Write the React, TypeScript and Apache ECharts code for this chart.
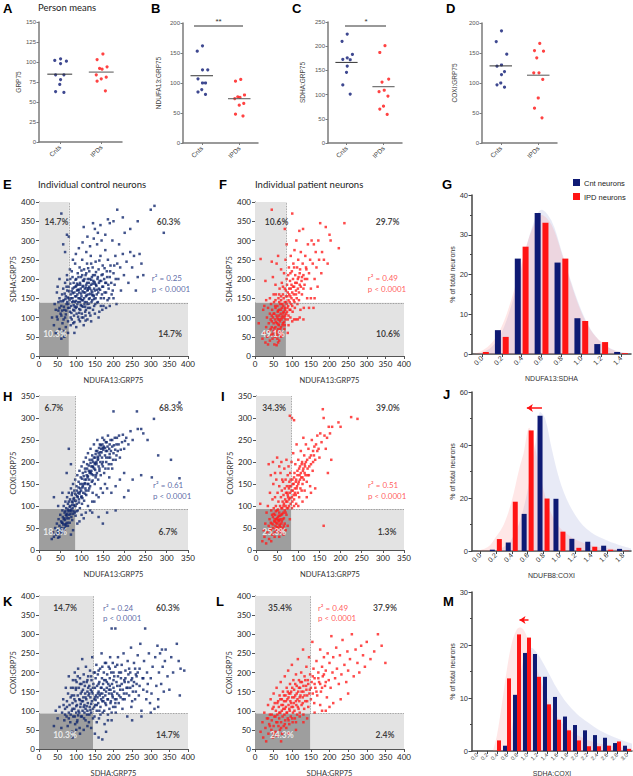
import React, { useEffect, useRef } from 'react';
import * as echarts from 'echarts';

const FC = 'Lato, "Open Sans", sans-serif';
const FA = '"Liberation Sans", Arial, sans-serif';
const NAVY = '#0e1a74';
const RED = '#ff1414';
const SNAVY = '#12286e';
const SRED = '#ff1e1e';

// ---------- Top row: person means ----------
const stripCats = ['Cnts', 'IPDs'];
const aCnt = [104, 102, 101, 98, 84, 84, 78, 72, 63, 62];
const aIpd = [110, 103, 94, 92, 91, 84, 81, 79, 76, 64];
const bCnt = [162, 153, 122, 122, 107, 100, 100, 89, 85, 81];
const bIpd = [106, 103, 80, 77, 76, 74, 66, 63, 48, 45];
const cCnt = [225, 210, 183, 176, 173, 172, 159, 146, 120, 101];
const cIpd = [201, 187, 132, 126, 109, 106, 97, 76, 70, 59];
const dCnt = [187, 169, 148, 130, 128, 119, 114, 100, 97, 93];
const dIpd = [166, 154, 153, 142, 117, 117, 106, 75, 58, 42];
const jitA = [0.02, -0.12, 0.16, 0.02, -0.1, 0.1, 0.02, 0.0, -0.1, 0.1];
const jitB = [0.04, -0.1, 0.14, -0.04, 0.02, -0.12, 0.12, 0.0, -0.1, 0.1];

// ---------- Scatter panels (individual neurons) ----------
const ePts = [[45,120],[50,95],[52,140],[55,150],[58,110],[60,130],[62,160],[63,85],[65,175],[66,145],[68,120],[70,190],[70,100],[72,155],[74,135],[75,210],[76,170],[78,125],[78,90],[80,180],[82,145],[83,115],[84,200],[85,160],[86,130],[88,95],[88,220],[90,175],[90,150],[92,120],[93,190],[94,105],[95,165],[96,140],[97,240],[98,180],[99,125],[100,155],[100,200],[101,110],[102,170],[103,135],[104,215],[105,185],[106,150],[107,95],[108,165],[109,230],[110,140],[110,190],[111,120],[112,175],[113,205],[114,155],[115,130],[116,250],[117,180],[118,145],[119,100],[120,195],[120,165],[121,225],[122,135],[123,175],[124,115],[125,210],[126,155],[127,185],[128,140],[129,240],[130,170],[131,200],[132,125],[133,160],[134,190],[135,220],[136,150],[137,175],[138,105],[139,260],[140,185],[141,140],[142,205],[143,165],[144,230],[145,120],[146,195],[147,155],[148,175],[150,210],[151,135],[152,245],[153,185],[155,160],[156,290],[157,200],[158,140],[160,225],[161,175],[162,115],[163,195],[165,260],[166,150],[168,210],[170,180],[171,235],[173,130],[175,200],[176,165],[178,275],[180,190],[182,220],[184,145],[185,250],[187,175],[190,205],[192,235],[195,160],[197,300],[200,215],[203,185],[205,260],[208,135],[210,240],[213,200],[215,290],[218,230],[220,170],[225,265],[228,210],[230,320],[235,245],[240,190],[245,270],[250,230],[255,260],[260,170],[265,205],[270,265],[275,240],[280,210],[300,380],[310,390],[335,320],[265,350],[210,380],[185,355],[165,340],[150,330],[120,335],[130,310],[145,345],[60,370],[65,290],[70,270],[75,315],[80,310],[55,200],[50,180],[48,165],[40,80],[45,60],[60,45],[55,70],[65,65],[72,75],[78,60],[85,80],[92,85],[100,75],[110,90],[120,80],[130,95],[140,90],[150,110],[160,100],[95,60],[115,100],[125,105],[170,120],[180,125],[190,130],[200,150],[35,100],[42,135],[68,50],[96,128],[104,172],[112,148],[118,196],[126,178],[134,136],[142,158],[150,188],[88,168],[92,142],[100,182],[108,122],[116,210],[124,128],[132,176],[140,198],[148,148],[156,172],[80,150],[76,140]];
const ePtsCore = [[62,118],[64,142],[67,128],[69,162],[71,148],[73,118],[74,180],[77,152],[79,135],[81,168],[82,125],[84,188],[86,150],[87,112],[89,140],[90,205],[91,163],[93,132],[94,178],[95,118],[97,155],[98,198],[99,143],[101,128],[102,188],[103,160],[105,140],[106,205],[107,172],[108,112],[109,150],[111,185],[112,132],[113,162],[114,222],[115,145],[117,168],[118,128],[119,182],[121,150],[122,200],[123,140],[124,165],[126,120],[127,215],[128,158],[129,190],[130,135],[131,172],[132,228],[134,148],[135,180],[136,200],[137,125],[138,162],[140,240],[141,170],[143,145],[144,188],[145,210],[146,158],[148,130],[149,192],[150,170],[152,150],[153,218],[154,182],[156,138],[158,205],[159,165],[161,190],[162,248],[164,172],[166,130],[167,195],[169,160],[171,212],[172,180],[174,150],[176,228],[178,190],[180,165],[183,205],[186,185],[188,150],[191,220],[194,190],[198,170],[202,235],[206,200],[85,100],[95,88],[105,102],[115,110],[125,92],[135,112],[60,105],[66,95],[72,108],[55,125],[58,142],[52,118],[48,102],[76,198],[83,225],[91,250],[99,265],[107,280],[117,295],[127,270],[137,285],[147,305],[158,320],[168,300],[178,315],[190,345],[200,350],[225,360],[245,330]];
const fPts = [[10,85],[15,252],[20,45],[22,120],[25,60],[28,195],[28,35],[30,75],[32,100],[33,50],[35,125],[35,30],[37,85],[38,65],[40,110],[40,40],[42,95],[43,135],[44,55],[45,380],[45,75],[46,120],[47,45],[48,100],[48,205],[50,65],[50,85],[51,140],[52,110],[53,50],[54,95],[55,125],[55,75],[56,160],[57,60],[58,105],[58,240],[59,85],[60,130],[60,45],[61,115],[62,70],[62,95],[63,150],[64,80],[65,120],[65,105],[66,175],[67,60],[67,90],[68,135],[69,110],[70,75],[70,145],[71,95],[72,125],[72,190],[73,55],[74,105],[75,160],[75,85],[76,130],[77,115],[78,100],[78,215],[79,70],[80,140],[80,175],[81,120],[82,95],[82,250],[83,155],[84,110],[85,135],[85,290],[86,185],[87,125],[88,165],[88,95],[89,210],[90,145],[91,230],[92,175],[93,120],[94,195],[95,155],[96,260],[97,135],[98,185],[99,220],[100,370],[100,165],[101,115],[102,200],[103,240],[104,145],[105,180],[106,275],[107,125],[108,210],[110,160],[111,300],[112,190],[113,230],[114,135],[115,175],[116,250],[117,205],[118,145],[119,325],[120,185],[121,225],[122,120],[123,270],[125,195],[126,160],[128,240],[129,330],[130,210],[131,125],[133,185],[135,260],[137,230],[140,200],[142,290],[145,215],[148,250],[150,175],[152,300],[155,240],[157,125],[158,290],[160,200],[163,270],[165,230],[168,180],[170,300],[172,250],[175,345],[178,215],[180,270],[185,250],[190,335],[195,240],[200,315],[203,300],[225,280],[240,345],[130,95],[120,100],[110,95],[100,90],[95,100],[140,150],[150,150],[145,125],[160,150],[62,35],[58,28],[52,30],[70,50],[65,40],[88,60],[90,80],[105,95],[115,95],[55,185],[50,160],[40,150],[30,145],[25,130],[45,245],[62,260],[70,225],[80,330]];
const fPtsCore = [[42,70],[45,90],[48,58],[50,110],[52,72],[54,130],[56,88],[58,65],[60,100],[62,118],[63,82],[65,140],[66,95],[68,70],[69,120],[70,155],[72,100],[73,135],[74,80],[76,112],[77,150],[78,88],[80,125],[81,105],[83,170],[84,140],[86,115],[87,155],[89,130],[90,105],[92,160],[93,140],[95,120],[96,175],[98,150],[100,130],[102,180],[104,160],[106,140],[108,190],[110,170],[112,150],[115,200],[118,165],[120,215],[123,180],[126,205],[130,175],[134,200],[138,225],[45,105],[55,145],[65,160],[75,180],[85,200],[95,215],[105,230],[60,55],[70,60],[80,80]];
const hPts = [[30,25],[33,40],[35,30],[38,50],[40,35],[42,60],[44,45],[45,28],[46,70],[48,55],[50,40],[50,80],[52,65],[53,50],[55,90],[56,75],[57,58],[58,100],[59,45],[60,85],[61,68],[62,110],[63,55],[64,95],[65,78],[66,120],[67,62],[68,105],[69,88],[70,130],[70,72],[72,98],[73,115],[74,82],[75,140],[76,92],[77,125],[78,68],[79,108],[80,150],[81,88],[82,118],[83,135],[84,100],[85,160],[86,78],[87,125],[88,145],[89,105],[90,170],[91,90],[92,130],[93,155],[94,115],[95,180],[96,95],[97,140],[98,165],[99,120],[100,190],[101,105],[102,150],[103,175],[104,130],[105,200],[106,112],[107,160],[108,185],[109,140],[110,210],[111,125],[112,170],[113,195],[114,150],[115,220],[116,135],[117,180],[118,160],[119,205],[120,145],[121,230],[122,175],[123,190],[124,155],[125,215],[126,130],[127,200],[128,170],[129,240],[130,185],[131,150],[132,210],[133,165],[134,225],[135,195],[136,175],[137,250],[138,205],[139,160],[140,220],[142,185],[143,240],[144,200],[145,170],[146,230],[148,210],[149,255],[150,190],[152,235],[153,175],[155,215],[157,245],[158,200],[160,225],[162,260],[163,185],[165,230],[167,210],[168,250],[170,195],[172,235],[175,220],[175,315],[178,255],[180,205],[182,240],[185,225],[188,260],[190,210],[195,245],[200,230],[205,255],[210,240],[215,270],[220,250],[230,315],[232,275],[240,275],[245,265],[255,250],[265,165],[270,298],[280,215],[310,205],[330,163],[330,335],[150,60],[65,175],[70,230],[75,195],[35,120],[55,130],[100,80],[110,85],[120,90],[130,110],[140,120],[150,130],[160,140],[170,130],[180,145],[190,160],[200,175],[210,135],[220,160],[240,170],[95,65],[105,72],[125,85],[140,75],[160,85],[180,90],[115,100],[125,110],[135,125],[145,140],[155,150],[165,165],[200,120],[45,100],[90,60],[80,45],[75,35],[54,62],[60,72],[66,82],[72,90],[78,102],[84,112],[90,122],[96,132],[102,142],[108,152],[114,165],[120,178],[126,190],[132,198],[138,212],[144,222],[150,232]];
const hPtsCore = [[52,48],[55,62],[58,70],[61,58],[63,80],[66,72],[68,92],[71,80],[73,100],[75,88],[77,110],[79,95],[81,115],[83,102],[85,128],[87,112],[89,135],[91,120],[93,142],[95,128],[97,150],[99,135],[101,162],[103,145],[105,168],[107,150],[109,178],[111,160],[113,185],[115,168],[117,192],[119,175],[121,198],[123,180],[125,205],[127,188],[129,210],[131,195],[133,218],[135,200],[137,225],[139,208],[141,232],[143,215],[145,238],[147,222],[149,240],[151,228],[153,250],[155,232],[157,225],[159,245],[161,235],[163,210],[166,240],[169,225],[172,250],[176,238],[179,228],[183,255],[187,240],[192,228],[197,262],[202,248],[45,38],[48,30],[56,40],[60,50],[64,60],[68,55],[72,62],[76,75],[80,82],[84,85],[88,88],[62,88],[70,110],[78,130],[86,100],[94,108],[102,118],[110,135],[118,140],[126,158],[134,170],[142,180],[150,200],[158,210],[166,218],[174,205],[182,215],[100,122],[108,128],[116,150],[124,172],[132,182],[140,190],[148,195],[156,185],[164,195],[172,185]];
const iPts = [[10,105],[15,20],[18,45],[20,30],[22,60],[24,15],[25,85],[27,40],[28,100],[30,55],[31,25],[32,70],[33,130],[35,45],[36,90],[37,60],[38,35],[39,115],[40,75],[40,50],[41,150],[42,95],[43,65],[44,40],[45,120],[45,80],[46,55],[47,100],[48,70],[48,160],[49,45],[50,90],[50,60],[51,130],[52,75],[52,50],[53,110],[54,65],[55,145],[55,85],[56,55],[57,100],[58,70],[58,175],[59,120],[60,80],[60,60],[61,135],[62,95],[63,110],[63,70],[64,155],[65,85],[65,125],[66,105],[67,185],[68,90],[68,140],[69,115],[70,100],[70,160],[71,130],[72,80],[72,205],[73,145],[74,110],[75,170],[75,125],[76,95],[77,190],[78,140],[78,115],[79,155],[80,305],[80,130],[81,175],[82,105],[83,145],[84,200],[85,120],[85,300],[86,160],[87,135],[88,220],[89,150],[90,295],[90,115],[91,175],[92,140],[93,195],[94,125],[95,160],[96,240],[97,145],[98,180],[99,130],[100,205],[101,155],[102,120],[103,170],[104,190],[105,140],[106,225],[107,165],[108,135],[109,200],[110,150],[111,180],[112,255],[113,160],[114,215],[115,135],[116,190],[117,170],[118,240],[120,155],[121,205],[122,185],[124,230],[125,170],[127,210],[128,145],[130,195],[132,250],[134,180],[135,225],[137,215],[140,205],[142,240],[145,260],[148,230],[150,210],[152,265],[155,245],[158,320],[160,55],[160,300],[162,260],[165,230],[168,255],[170,175],[172,280],[175,265],[178,205],[180,280],[195,290],[200,280],[225,302],[240,298],[120,120],[110,110],[100,100],[95,105],[130,130],[140,140],[85,95],[90,100],[75,55],[80,70],[70,45],[65,35],[115,195],[60,200],[55,190],[50,210],[45,175],[40,200],[35,170],[62,160],[30,195],[48,62],[52,68],[56,58],[46,48],[54,78],[58,52],[44,70],[50,72]];
const iPtsCore = [[40,58],[42,82],[45,65],[47,88],[50,52],[52,92],[53,40],[55,68],[57,78],[58,45],[60,95],[61,65],[62,82],[64,50],[65,100],[66,72],[68,60],[70,85],[71,110],[73,95],[74,130],[76,120],[78,100],[79,145],[81,118],[82,160],[84,135],[86,110],[87,150],[89,125],[90,165],[92,130],[94,155],[96,140],[98,170],[100,150],[102,185],[104,160],[106,175],[108,195],[110,165],[112,185],[115,175],[118,200],[122,170],[126,190],[130,215],[135,200],[138,235],[145,225],[35,62],[38,80],[33,48],[44,30],[36,20],[55,30],[60,40],[66,55]];
const kPts = [[40,60],[45,100],[50,80],[55,110],[60,55],[62,95],[65,130],[68,75],[70,105],[72,160],[74,85],[75,125],[77,60],[78,145],[80,95],[80,190],[82,115],[84,70],[85,135],[86,160],[88,100],[89,45],[90,120],[91,180],[92,85],[94,140],[95,105],[96,200],[97,65],[98,125],[99,155],[100,95],[101,175],[102,115],[103,75],[104,140],[105,210],[106,100],[107,160],[108,130],[109,55],[110,185],[111,110],[112,145],[113,85],[114,170],[115,125],[116,235],[117,100],[118,155],[119,135],[120,195],[121,80],[122,115],[123,165],[124,145],[125,105],[126,215],[127,130],[128,175],[129,90],[130,150],[131,120],[132,190],[133,140],[134,70],[135,165],[136,110],[137,205],[138,135],[139,155],[140,95],[141,180],[142,125],[143,240],[144,145],[145,105],[146,170],[147,200],[148,130],[149,85],[150,160],[151,115],[152,185],[153,140],[154,220],[155,100],[156,165],[157,135],[158,195],[159,120],[160,150],[161,80],[162,175],[163,140],[164,210],[165,110],[166,160],[167,130],[168,250],[169,185],[170,145],[171,95],[172,170],[173,125],[174,200],[175,155],[176,65],[177,225],[178,140],[179,180],[180,115],[182,160],[183,195],[184,130],[185,90],[186,170],[187,215],[188,145],[189,105],[190,185],[191,240],[192,155],[193,125],[194,200],[195,75],[196,170],[197,140],[198,225],[199,110],[200,160],[202,190],[204,130],[205,215],[206,95],[208,175],[210,145],[212,240],[214,120],[215,200],[217,165],[219,135],[220,185],[222,220],[224,105],[225,155],[227,250],[229,180],[230,130],[232,205],[235,160],[237,85],[238,230],[240,175],[242,140],[245,200],[247,265],[248,110],[250,185],[252,150],[255,225],[258,130],[260,195],[262,170],[265,245],[268,140],[270,210],[272,275],[275,100],[278,185],[280,155],[282,230],[285,315],[288,130],[290,200],[292,170],[295,250],[298,120],[300,185],[302,145],[305,215],[310,105],[312,240],[315,165],[318,270],[320,130],[322,200],[325,250],[328,170],[330,260],[332,215],[335,150],[338,230],[340,260],[345,190],[350,155],[355,240],[360,200],[370,275],[375,230],[378,140],[380,210],[390,205],[195,315],[205,315],[150,40],[160,30],[170,25],[140,55],[180,45],[250,75],[275,85],[300,95],[320,110],[130,60],[120,50],[110,40],[100,50],[90,30]];
const kPtsCore = [[85,90],[90,105],[95,130],[100,112],[105,88],[110,128],[115,150],[120,110],[125,135],[130,100],[135,145],[140,118],[145,160],[150,135],[155,115],[160,170],[165,145],[170,125],[175,180],[180,150],[185,130],[190,165],[195,145],[200,180],[205,120],[210,165],[215,140],[220,200],[225,130],[230,175],[235,145],[240,195],[245,160],[250,125],[255,175],[260,150],[265,200],[270,165],[280,185],[290,150],[100,160],[110,170],[120,175],[130,180],[140,190],[150,200],[160,205],[170,215],[180,225],[190,210],[200,200],[210,220],[115,85],[125,75],[135,90],[145,80],[155,70],[165,90],[175,100],[185,75],[195,95],[205,110],[88,140],[92,160],[98,180],[104,190],[96,85],[102,70],[108,95],[112,118],[118,125],[122,95],[128,112],[132,160],[138,102],[142,150],[148,110],[152,128],[158,145],[162,100],[168,160],[172,135],[178,120],[182,175],[188,155],[192,120],[198,135],[202,150],[208,130],[212,190],[218,155],[222,170],[228,145],[232,185],[238,160],[242,210],[248,180],[252,165],[258,210],[262,190],[75,110],[70,90],[80,80],[66,115]];
const lPts = [[15,45],[20,70],[22,30],[25,95],[28,55],[30,20],[32,80],[35,115],[36,40],[38,65],[40,90],[42,130],[44,50],[45,75],[47,105],[48,30],[50,60],[50,145],[52,85],[53,120],[55,45],[56,100],[57,70],[58,160],[60,90],[60,35],[62,125],[63,60],[64,110],[65,80],[66,140],[67,50],[68,95],[69,175],[70,70],[71,115],[72,130],[73,40],[74,85],[75,150],[76,105],[77,60],[78,125],[79,90],[80,190],[81,75],[82,140],[83,110],[84,55],[85,160],[86,95],[87,130],[88,80],[89,205],[90,115],[91,145],[92,65],[93,100],[94,170],[95,125],[96,85],[97,150],[98,110],[99,220],[100,135],[101,70],[102,95],[103,180],[104,120],[105,155],[106,100],[107,80],[108,140],[110,195],[111,115],[112,165],[113,90],[114,130],[115,235],[116,150],[117,105],[118,180],[119,125],[120,95],[121,160],[122,140],[124,200],[125,115],[126,175],[128,135],[129,260],[130,150],[132,105],[133,190],[135,125],[137,165],[138,215],[140,140],[142,180],[143,110],[145,240],[147,155],[148,195],[150,130],[152,175],[154,280],[155,145],[157,210],[159,120],[160,185],[162,160],[165,230],[167,140],[170,200],[172,175],[175,260],[177,150],[180,215],[182,190],[185,240],[188,165],[190,205],[193,135],[195,250],[198,180],[200,225],[203,160],[205,295],[208,200],[210,240],[215,185],[218,265],[220,210],[225,170],[228,245],[232,195],[235,285],[240,220],[245,175],[248,255],[250,205],[255,235],[260,300],[265,190],[270,260],[275,225],[280,200],[285,270],[290,245],[295,215],[300,280],[310,235],[320,255],[330,300],[340,270],[350,225],[210,120],[230,130],[250,145],[180,100],[160,95],[175,115],[190,100],[200,110],[70,20],[90,40],[110,50],[130,70]];
const lPtsCore = [[45,90],[50,110],[55,85],[60,120],[65,95],[68,130],[72,100],[75,115],[78,140],[80,105],[83,125],[85,95],[88,150],[90,135],[92,105],[95,145],[97,120],[100,160],[102,110],[105,135],[108,170],[110,125],[112,145],[115,110],[118,160],[120,135],[122,175],[125,150],[128,120],[130,165],[133,140],[135,180],[138,155],[140,125],[143,170],[146,145],[150,160],[155,190],[160,170],[165,150],[170,185],[175,170],[180,160],[185,195],[190,175],[60,70],[70,55],[80,65],[90,75],[100,80],[110,70],[120,85],[130,90],[140,80],[50,40],[40,60],[35,80]];

// ---------- Histograms ----------
const gCats = ['0.0', '0.2', '0.4', '0.6', '0.8', '1.0', '1.2', '1.4'];
const gCnt = [0, 6, 24, 35.5, 23, 9, 2.5, 0.5];
const gIpd = [0.5, 4.3, 27, 33, 24, 8.3, 3, 0.2];
const gCntCurve = [[-0.04,0],[0.0,0.3],[0.1,1.8],[0.2,5.5],[0.3,12.5],[0.4,22],[0.5,31.5],[0.6,36.3],[0.7,33.5],[0.8,26],[0.9,18],[1.0,11],[1.1,6],[1.2,3],[1.3,1.3],[1.4,0.5],[1.5,0.1]];
const gIpdCurve = [[-0.08,0],[0.0,0.8],[0.1,2.8],[0.2,7],[0.3,14],[0.4,23],[0.5,31],[0.6,35],[0.7,32.5],[0.8,25.5],[0.9,17.5],[1.0,10.5],[1.1,5.8],[1.2,3],[1.3,1.2],[1.4,0.4],[1.5,0]];

const jCats = ['0.0', '0.2', '0.4', '0.6', '0.8', '1.0', '1.2', '1.4', '1.6', '1.8'];
const jCnt = [0, 0.5, 3.2, 14, 51, 19.7, 4.6, 3.5, 2, 0.8];
const jIpd = [0, 4.5, 18.6, 45.5, 19.8, 7.3, 1.2, 1.6, 0.5, 0.1];
const jCntCurve = [[0.12,0],[0.2,0.3],[0.3,1.5],[0.4,4.5],[0.5,11],[0.6,23],[0.7,41],[0.76,52.5],[0.82,50],[0.9,39],[1.0,27],[1.1,19],[1.2,13.5],[1.3,9.5],[1.4,7],[1.5,5.3],[1.6,4],[1.7,2.8],[1.8,1.8],[1.9,1]];
const jIpdCurve = [[-0.05,0],[0.1,1.5],[0.2,5.3],[0.3,10],[0.4,19],[0.5,31.7],[0.55,37],[0.62,46.5],[0.7,38],[0.8,23],[0.9,14],[1.0,9],[1.1,6.3],[1.2,4.3],[1.4,2.1],[1.6,1],[1.8,0.4],[1.9,0]];

const mCats = ['0.0', '0.2', '0.4', '0.6', '0.8', '1.0', '1.2', '1.4', '1.6', '1.8', '2.0', '2.2', '2.4', '2.6', '2.8', '3.0'];
const mCnt = [0, 0, 0, 1, 10.6, 18.5, 18.3, 14, 10.2, 6.5, 4.9, 3.9, 3, 2.5, 1.5, 1];
const mIpd = [0, 0, 2, 13.7, 22, 21.4, 14, 8.8, 5.9, 3.9, 2, 0.9, 0.9, 1, 1.8, 0.4];
const mCntCurve = [[0.52,0],[0.6,1],[0.7,4.5],[0.8,10.5],[0.9,16],[1.0,19],[1.08,19.5],[1.2,18.5],[1.3,17],[1.4,15.3],[1.6,11.8],[1.8,9],[2.0,7],[2.2,5.5],[2.4,4.2],[2.6,3.2],[2.8,2.4],[3.0,1.7],[3.1,1.4]];
const mIpdCurve = [[0.32,0],[0.4,3],[0.5,9],[0.6,15.5],[0.7,20.5],[0.8,23],[0.86,23.3],[0.92,23],[1.0,21.5],[1.1,18.5],[1.2,15.5],[1.4,10],[1.6,6.5],[1.8,4.3],[2.0,3],[2.2,2.1],[2.4,1.5],[2.6,1.1],[2.8,0.8],[3.0,0.5],[3.1,0.4]];

const mean = (a: number[]) => a.reduce((s, v) => s + v, 0) / a.length;

function buildOption() {
  const option: any = {
    animation: false,
    backgroundColor: '#ffffff',
    grid: [], xAxis: [], yAxis: [], series: [], graphic: [],
  };
  const addGrid = (b: number[]) => {
    option.grid.push({ left: b[0], top: b[1], width: b[2], height: b[3], containLabel: false, outerBoundsMode: 'none' });
    return option.grid.length - 1;
  };

  // ---- strip panels ----
  const strip = (b: number[], yMax: number, yInt: number, yName: string, gap: number, cnt: number[], ipd: number[]) => {
    const gi = addGrid(b);
    option.xAxis.push({
      type: 'category', gridIndex: gi, data: stripCats, boundaryGap: true,
      axisLine: { show: true, onZero: false, lineStyle: { color: '#7a7a7a', width: 1.5 } },
      axisTick: { show: true, alignWithLabel: true, length: 2, lineStyle: { color: '#7a7a7a' } },
      axisLabel: { rotate: 45, fontSize: 6.5, color: '#444', fontFamily: FA, margin: 4 },
    });
    const vx = option.xAxis.length;
    option.xAxis.push({ type: 'value', gridIndex: gi, min: -0.5, max: 1.5, show: false, axisLine: { onZero: false } });
    const yi = option.yAxis.length;
    option.yAxis.push({
      type: 'value', gridIndex: gi, min: 0, max: yMax, interval: yInt,
      name: yName, nameLocation: 'middle', nameGap: gap, nameRotate: 90,
      nameTextStyle: { fontSize: 6.5, color: '#444', fontFamily: FA },
      axisLine: { show: true, onZero: false, lineStyle: { color: '#7a7a7a', width: 1.5 } },
      axisTick: { show: true, length: 2.5, lineStyle: { color: '#7a7a7a' } },
      axisLabel: { fontSize: 6, color: '#555', fontFamily: FA, margin: 3 },
      splitLine: { show: false },
    });
    option.series.push({
      type: 'scatter', xAxisIndex: vx, yAxisIndex: yi, symbolSize: 3.2,
      itemStyle: { color: NAVY }, data: cnt.map((v, k) => [jitA[k], v]),
    });
    option.series.push({
      type: 'scatter', xAxisIndex: vx, yAxisIndex: yi, symbolSize: 3.2,
      itemStyle: { color: RED }, data: ipd.map((v, k) => [1 + jitB[k], v]),
    });
    const mc = mean(cnt), mi = mean(ipd);
    option.series.push({ type: 'line', xAxisIndex: vx, yAxisIndex: yi, symbol: 'none', lineStyle: { color: '#333', width: 1 }, data: [[-0.3, mc], [0.3, mc]] });
    option.series.push({ type: 'line', xAxisIndex: vx, yAxisIndex: yi, symbol: 'none', lineStyle: { color: '#555', width: 1 }, data: [[0.7, mi], [1.3, mi]] });
  };
  strip([39, 22, 83, 120], 150, 25, 'GRP75', 14, aCnt, aIpd);
  strip([183, 23, 75, 120], 200, 50, 'NDUFA13:GRP75', 21, bCnt, bIpd);
  strip([328, 22, 74, 121], 250, 50, 'SDHA:GRP75', 22, cCnt, cIpd);
  strip([482, 23, 75, 120], 200, 50, 'COXI:GRP75', 24, dCnt, dIpd);

  // ---- scatter panels ----
  const scat = (b: number[], xMax: number, yMax: number, tx: number, ty: number, pts: number[][], color: string,
    xName: string, yName: string, labels: any[]) => {
    const gi = addGrid(b);
    const xi = option.xAxis.length;
    option.xAxis.push({
      type: 'value', gridIndex: gi, min: 0, max: xMax, interval: 50,
      name: xName, nameLocation: 'middle', nameGap: 20,
      nameTextStyle: { fontSize: 7.5, color: '#333', fontFamily: FC },
      axisLine: { show: true, onZero: false, lineStyle: { color: '#555', width: 1 } },
      axisTick: { show: true, length: 3, lineStyle: { color: '#555' } },
      axisLabel: { fontSize: 8, color: '#222', fontFamily: FC, margin: 4 },
      splitLine: { show: false },
    });
    const yi = option.yAxis.length;
    option.yAxis.push({
      type: 'value', gridIndex: gi, min: 0, max: yMax, interval: 50,
      name: yName, nameLocation: 'middle', nameGap: 18, nameRotate: 90,
      nameTextStyle: { fontSize: 7.5, color: '#333', fontFamily: FC },
      axisLine: { show: true, onZero: false, lineStyle: { color: '#555', width: 1 } },
      axisTick: { show: true, length: 3, lineStyle: { color: '#555' } },
      axisLabel: { fontSize: 8, color: '#222', fontFamily: FC, margin: 4 },
      splitLine: { show: false },
    });
    option.series.push({
      type: 'scatter', xAxisIndex: xi, yAxisIndex: yi, symbol: 'rect', symbolSize: 2.5,
      itemStyle: { color }, data: pts, z: 3,
      markArea: {
        silent: true,
        data: [
          [{ coord: [0, ty], itemStyle: { color: '#e3e3e3' } }, { coord: [tx, yMax] }],
          [{ coord: [tx, 0], itemStyle: { color: '#e3e3e3' } }, { coord: [xMax, ty] }],
          [{ coord: [0, 0], itemStyle: { color: '#9e9e9e' } }, { coord: [tx, ty] }],
        ],
      },
      markLine: {
        silent: true, symbol: 'none', label: { show: false },
        lineStyle: { type: 'dotted', color: '#777', width: 0.8 },
        data: [
          [{ coord: [tx, ty] }, { coord: [tx, yMax] }],
          [{ coord: [tx, ty] }, { coord: [xMax, ty] }],
        ],
      },
    });
    option.series.push({
      type: 'scatter', xAxisIndex: xi, yAxisIndex: yi, symbolSize: 1, silent: true, z: 10,
      itemStyle: { color: 'rgba(0,0,0,0)' },
      data: labels.map((l) => ({
        value: l.p,
        label: {
          show: true, position: 'inside', formatter: l.t, color: l.c, fontFamily: FC,
          fontSize: l.fs || 8.5, fontWeight: l.b === false ? 'normal' : 'bold', align: l.al || 'center',
        },
      })),
    });
  };
  const pl = (t: string, p: number[], c = '#111') => ({ t, p, c });
  const st = (t: string, p: number[], c: string) => ({ t, p, c, b: false, al: 'left', fs: 8 });
  const TN = '#33468f';
  const TR = '#ff3030';
  scat([39, 202, 149, 154], 400, 400, 80, 138, [...ePts, ...ePtsCore], SNAVY, 'NDUFA13:GRP75', 'SDHA:GRP75', [
    pl('14.7%', [47, 348]), pl('60.3%', [348, 348]), pl('10.3%', [43, 57], '#fff'), pl('14.7%', [352, 57]),
    st('r\u00b2 = 0.25', [303, 203], TN), st('p < 0.0001', [303, 174], TN),
  ]);
  scat([255, 202, 149, 154], 400, 400, 83, 138, [...fPts, ...fPtsCore], SRED, 'NDUFA13:GRP75', 'SDHA:GRP75', [
    pl('10.6%', [58, 348]), pl('29.7%', [356, 348]), pl('49.1%', [48, 57], '#fff'), pl('10.6%', [357, 57]),
    st('r\u00b2 = 0.49', [303, 203], TR), st('p < 0.0001', [303, 174], TR),
  ]);
  scat([39, 396, 149, 154], 350, 350, 85, 93, [...hPts, ...hPtsCore], SNAVY, 'NDUFA13:GRP75', 'COXI:GRP75', [
    pl('6.7%', [35, 323]), pl('68.3%', [310, 323]), pl('18.3%', [38, 41], '#fff'), pl('6.7%', [303, 41]),
    st('r\u00b2 = 0.61', [268, 148], TN), st('p < 0.0001', [268, 123], TN),
  ]);
  scat([256, 396, 148, 154], 350, 350, 83, 93, [...iPts, ...iPtsCore], SRED, 'NDUFA13:GRP75', 'COXI:GRP75', [
    pl('34.3%', [43, 323]), pl('39.0%', [312, 323]), pl('25.3%', [43, 41], '#fff'), pl('1.3%', [310, 41]),
    st('r\u00b2 = 0.51', [265, 148], TR), st('p < 0.0001', [265, 123], TR),
  ]);
  scat([39, 596, 149, 153], 400, 400, 145, 93, [...kPts, ...kPtsCore], SNAVY, 'SDHA:GRP75', 'COXI:GRP75', [
    pl('14.7%', [70, 369]), pl('60.3%', [346, 369]), pl('10.3%', [70, 37], '#fff'), pl('14.7%', [346, 37]),
    st('r\u00b2 = 0.24', [172, 369], TN), st('p < 0.0001', [172, 342], TN),
  ]);
  scat([255, 596, 149, 153], 400, 400, 148, 93, [...lPts, ...lPtsCore], SRED, 'SDHA:GRP75', 'COXI:GRP75', [
    pl('35.4%', [67, 369]), pl('37.9%', [349, 369]), pl('24.3%', [72, 37], '#fff'), pl('2.4%', [349, 37]),
    st('r\u00b2 = 0.49', [169, 369], TR), st('p < 0.0001', [169, 342], TR),
  ]);

  // ---- histogram panels ----
  const hist = (b: number[], cats: string[], cnt: number[], ipd: number[], yMax: number, yInt: number,
    cCurve: number[][], iCurve: number[][], bw: number, bg: string, xName: string, nameGap: number, arrow: number[] | null, lblSize: number) => {
    const gi = addGrid(b);
    const cx = option.xAxis.length;
    option.xAxis.push({
      type: 'category', gridIndex: gi, data: cats, boundaryGap: true,
      name: xName, nameLocation: 'middle', nameGap,
      nameTextStyle: { fontSize: 7, color: '#333', fontFamily: FA },
      axisLine: { show: true, onZero: false, lineStyle: { color: '#444', width: 1.5 } },
      axisTick: { show: true, alignWithLabel: true, length: 3, lineStyle: { color: '#444' } },
      axisLabel: { rotate: 45, fontSize: lblSize, color: '#333', fontFamily: FA, interval: 0, margin: 3 },
    });
    const vx = option.xAxis.length;
    option.xAxis.push({ type: 'value', gridIndex: gi, min: -0.1, max: 0.2 * cats.length - 0.1, show: false, axisLine: { onZero: false } });
    const yi = option.yAxis.length;
    option.yAxis.push({
      type: 'value', gridIndex: gi, min: 0, max: yMax, interval: yInt,
      name: '% of total neurons', nameLocation: 'middle', nameGap: 16, nameRotate: 90,
      nameTextStyle: { fontSize: 7, color: '#333', fontFamily: FA },
      axisLine: { show: true, onZero: false, lineStyle: { color: '#444', width: 1.5 } },
      axisTick: { show: true, length: 3.5, lineStyle: { color: '#444' } },
      minorTick: { show: true, splitNumber: 2, length: 2, lineStyle: { color: '#444' } },
      axisLabel: { fontSize: 7.5, color: '#333', fontFamily: FA, margin: 4 },
      splitLine: { show: false },
    });
    option.series.push({
      type: 'line', xAxisIndex: vx, yAxisIndex: yi, data: cCurve, smooth: 0.35, symbol: 'none', z: 1, silent: true,
      lineStyle: { width: 0 }, areaStyle: { color: 'rgba(150,160,215,0.32)' },
    });
    const redCurve: any = {
      type: 'line', xAxisIndex: vx, yAxisIndex: yi, data: iCurve, smooth: 0.35, symbol: 'none', z: 1, silent: true,
      lineStyle: { width: 0 }, areaStyle: { color: 'rgba(255,140,140,0.3)' },
    };
    if (arrow) {
      redCurve.markLine = {
        silent: true, symbol: ['none', 'arrow'], symbolSize: 6, label: { show: false },
        lineStyle: { color: '#ff1010', width: 1.5, type: 'solid' },
        data: [[{ coord: [arrow[0], arrow[2]] }, { coord: [arrow[1], arrow[2]] }]],
      };
    }
    option.series.push(redCurve);
    option.series.push({
      type: 'bar', name: 'Cnt neurons', xAxisIndex: cx, yAxisIndex: yi, data: cnt, barWidth: bw, barGap: bg, z: 3,
      itemStyle: { color: NAVY },
    });
    option.series.push({
      type: 'bar', name: 'IPD neurons', xAxisIndex: cx, yAxisIndex: yi, data: ipd, barWidth: bw, barGap: bg, z: 3,
      itemStyle: { color: RED },
    });
  };
  hist([472, 195, 159, 159], gCats, gCnt, gIpd, 40, 10, gCntCurve, gIpdCurve, 6, '30%', 'NDUFA13:SDHA', 21, null, 7);
  hist([472, 392, 159, 159], jCats, jCnt, jIpd, 60, 20, jCntCurve, jIpdCurve, 5, '40%', 'NDUFB8:COXI', 21, [0.78, 0.59, 54], 7);
  hist([472, 592, 160, 159], mCats, mCnt, mIpd, 30, 10, mCntCurve, mIpdCurve, 4, '0%', 'SDHA:COXI', 19, [1.03, 0.85, 24.7], 5.5);

  // ---- graphic: letters, titles, legend, significance ----
  const g = option.graphic;
  const txt = (x: number, y: number, text: string, font: string, fill = '#000', align = 'left') =>
    g.push({ type: 'text', x, y, silent: true, style: { text, font, fill, textAlign: align, textVerticalAlign: 'middle' } });
  const LET = `bold 13px ${FA}`;
  txt(3, 8, 'A', LET); txt(151, 8, 'B', LET); txt(292, 8, 'C', LET); txt(446, 8, 'D', LET);
  txt(3, 184, 'E', LET); txt(219, 184, 'F', LET); txt(442, 184, 'G', LET);
  txt(3, 396, 'H', LET); txt(221, 396, 'I', LET); txt(443, 394, 'J', LET);
  txt(3, 601, 'K', LET); txt(216, 601, 'L', LET); txt(443, 601, 'M', LET);
  txt(38, 7, 'Person means', `9.5px ${FC}`, '#222');
  txt(38, 184, 'Individual control neurons', `9.5px ${FC}`, '#222');
  txt(255, 184, 'Individual patient neurons', `9.5px ${FC}`, '#222');
  g.push({ type: 'line', silent: true, shape: { x1: 194, y1: 26, x2: 243, y2: 26 }, style: { stroke: '#333', lineWidth: 1 } });
  txt(218.5, 21, '**', `8px ${FA}`, '#333', 'center');
  g.push({ type: 'line', silent: true, shape: { x1: 345, y1: 26, x2: 386, y2: 26 }, style: { stroke: '#333', lineWidth: 1 } });
  txt(366, 21, '*', `8px ${FA}`, '#333', 'center');
  g.push({ type: 'rect', silent: true, shape: { x: 573, y: 179, width: 7, height: 7 }, style: { fill: NAVY } });
  txt(584, 183, 'Cnt neurons', `7.5px ${FA}`, '#222');
  g.push({ type: 'rect', silent: true, shape: { x: 573, y: 193, width: 7, height: 7 }, style: { fill: RED } });
  txt(584, 197, 'IPD neurons', `7.5px ${FA}`, '#222');

  return option;
}

export default function App() {
  const ref = useRef<HTMLDivElement>(null);
  useEffect(() => {
    document.body.style.margin = '0';
    if (!ref.current) return;
    const chart = echarts.init(ref.current, undefined, { renderer: 'svg' });
    chart.setOption(buildOption());
    return () => chart.dispose();
  }, []);
  return <div ref={ref} style={{ position: 'fixed', left: 0, top: 0, width: 633, height: 776, background: '#fff' }} />;
}
